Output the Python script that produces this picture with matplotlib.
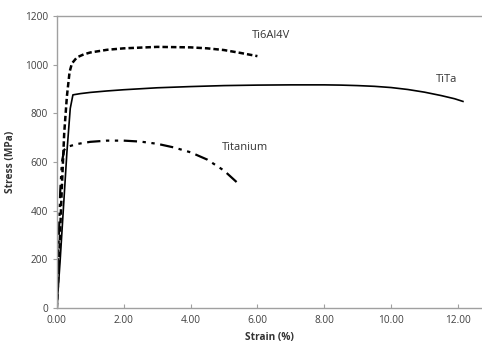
import numpy as np
import matplotlib.pyplot as plt

plt.rcParams['font.family'] = ['Open Sans', 'DejaVu Sans']

# Ti6Al4V curve
ti64_x = [0, 0.08, 0.15, 0.22, 0.3, 0.38, 0.45, 0.6, 0.8, 1.0, 1.5, 2.0, 3.0, 4.0, 4.5, 5.0, 5.5, 6.0]
ti64_y = [0, 250, 500, 720, 870, 970, 1005, 1030, 1042, 1050, 1061, 1067, 1073, 1071, 1067, 1060, 1048, 1035]

# TiTa curve
tita_x = [0, 0.1, 0.2, 0.3, 0.4, 0.48, 0.7, 1.0, 1.5, 2.0, 3.0, 4.0, 5.0, 6.0, 7.0, 8.0, 8.5, 9.0, 9.5, 10.0, 10.5, 11.0, 11.5, 11.9, 12.15]
tita_y = [0, 200, 420, 640, 820, 876, 881, 886, 892, 897, 905, 910, 914, 916, 917, 917, 916, 914, 911, 906, 898, 887, 873, 860, 849]

# Titanium curve
titan_x = [0, 0.05, 0.1, 0.15, 0.22, 0.3, 0.6, 1.0, 1.5, 2.0, 2.5, 3.0, 3.5, 4.0, 4.5, 5.0, 5.4]
titan_y = [0, 250, 480, 600, 650, 662, 674, 683, 688, 688, 684, 675, 660, 640, 610, 565, 515]

fig = plt.figure(figsize=(4.82, 3.47), dpi=100)
ax = fig.add_axes([0.118, 0.112, 0.882, 0.842])

ax.plot(ti64_x, ti64_y, color='black', lw=1.8, linestyle=(0, (2.2, 1.2)))
ax.plot(tita_x, tita_y, color='black', lw=1.2)
ax.plot(titan_x, titan_y, color='black', lw=1.6, linestyle=(0, (6, 2.5, 1.5, 2.5, 1.5, 2.5)))

ax.text(5.84, 1110, 'Ti6Al4V', fontsize=8, color='#333333')
ax.text(11.35, 930, 'TiTa', fontsize=8, color='#333333')
ax.text(4.95, 650, 'Titanium', fontsize=8, color='#333333')

ax.set_xlim(0, 12.72)
ax.set_ylim(0, 1200)
ax.set_xticks(np.arange(0, 12.1, 2))
ax.set_xticklabels(['%.2f' % v for v in np.arange(0, 12.1, 2)])
ax.set_yticks(np.arange(0, 1201, 200))

for s in ['top', 'left', 'bottom']:
    ax.spines[s].set_color('#a0a0a0')
    ax.spines[s].set_linewidth(1.0)
ax.spines['right'].set_visible(False)

ax.tick_params(axis='x', direction='in', length=3, color='#a0a0a0', labelsize=7.3, labelcolor='#404040', pad=5)
ax.tick_params(axis='y', direction='out', length=3, color='#a0a0a0', labelsize=7.3, labelcolor='#404040')

ax.set_xlabel('Strain (%)', fontsize=7.3, fontweight='bold', color='#333333', labelpad=4)
ax.set_ylabel('Stress (MPa)', fontsize=7.3, fontweight='bold', color='#333333', labelpad=6)

fig.savefig('out.png', dpi=100)
